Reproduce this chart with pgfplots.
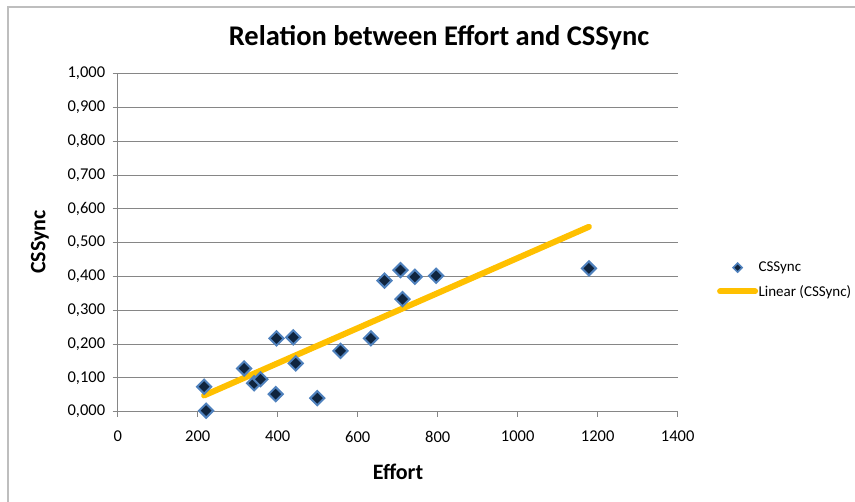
\documentclass[border=0pt]{standalone}
\usepackage{fontspec}
\setmainfont{Carlito}
\usepackage{pgfplots}
\pgfplotsset{compat=1.18}
\definecolor{gridc}{RGB}{134,134,134}
\definecolor{framec}{RGB}{190,190,190}
\definecolor{mfill}{RGB}{16,37,63}
\definecolor{medge}{RGB}{79,129,189}
\definecolor{trend}{RGB}{255,192,0}
\begin{document}
\begin{tikzpicture}[x=1pt,y=1pt]
\path[use as bounding box] (0,0) rectangle (855,502);
\draw[framec, line width=1.5pt] (8,0) -- (8,495) -- (855,495);
\begin{axis}[
  at={(117.7pt,90.3pt)}, anchor=south west,
  scale only axis, width=560pt, height=338pt,
  xmin=0, xmax=1400, ymin=0, ymax=1,
  xtick={0,200,400,600,800,1000,1200,1400},
  ytick={0,0.1,0.2,0.3,0.4,0.5,0.6,0.7,0.8,0.9,1},
  axis x line*=bottom, axis y line*=left,
  axis line style={gridc, line width=1.2pt, -},
  tick align=outside, major tick length=5pt,
  tick style={gridc, line width=1pt},
  ymajorgrids, grid style={gridc, line width=1pt},
  /pgf/number format/assume math mode=true,
  ticklabel style={font=\fontsize{16.5}{19}\selectfont, text=black},
  xticklabel style={/pgf/number format/1000 sep={}, yshift=-11pt},
  yticklabel style={xshift=-4pt, /pgf/number format/fixed, /pgf/number format/fixed zerofill, /pgf/number format/precision=3, /pgf/number format/use comma},
  clip=false,
  legend style={draw=none, fill=none, at={(rel axis cs:1.07,0.39)}, anchor=west,
    inner sep=0pt, row sep=12pt, font=\fontsize{15}{18}\selectfont,
    nodes={inner xsep=0.5pt, inner ysep=0pt}},
  legend cell align=left,
  legend image code/.code={\draw[mark repeat=2,mark phase=2,#1] plot coordinates {(0pt,0pt) (17.5pt,0pt) (35pt,0pt)};},
]
\addplot[only marks, mark=square*, mark size=5pt,
  mark options={rotate=45, fill=mfill, draw=medge, line width=2pt},
  legend image post style={mark size=3.2pt, mark options={rotate=45, fill=mfill, draw=medge, line width=1.5pt}}]
  coordinates {
  (216,0.074) (221,0.003) (316,0.128) (341,0.084) (357,0.096)
  (397,0.217) (395,0.052) (439,0.220) (445,0.143) (499,0.040)
  (557,0.180) (633,0.217) (667,0.388) (707,0.419) (712,0.333)
  (743,0.399) (796,0.402) (1178,0.424)
  };
\addlegendentry{CSSync}
\addplot[trend, line width=6pt, line cap=round] coordinates {(216,0.048) (1178,0.547)};
\addlegendentry{Linear (CSSync)}
\end{axis}
\node[font=\bfseries\fontsize{28.5}{32}\selectfont] at (439,464) {Relation between Effort and CSSync};
\node[font=\bfseries\fontsize{22}{26}\selectfont] at (398,30) {Effort};
\node[font=\bfseries\fontsize{22}{26}\selectfont, rotate=90] at (40,260) {CSSync};
\end{tikzpicture}
\end{document}
